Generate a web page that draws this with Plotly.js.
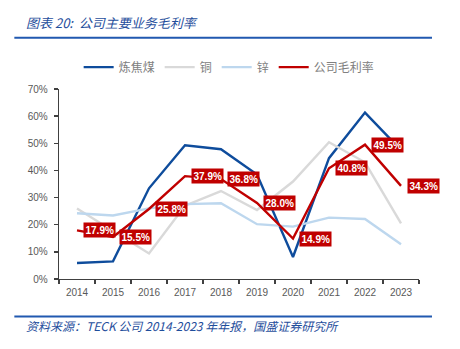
<!DOCTYPE html>
<html>
<head>
<meta charset="utf-8">
<script src="https://cdn.plot.ly/plotly-3.0.1.min.js"></script>
<style>
html,body{margin:0;padding:0;background:#fff;}
#chart{width:460px;height:349px;}
</style>
</head>
<body>
<div id="chart"></div>
<script>
const years = ['2014','2015','2016','2017','2018','2019','2020','2021','2022','2023'];
const cokingCoal = [5.9, 6.5, 33.4, 49.3, 47.8, 38.5, 8.1, 44.5, 61.3, 47.5];
const copper = [26.0, 17.8, 9.4, 27.0, 32.4, 25.4, 35.9, 50.4, 43.0, 20.5];
const zinc = [24.2, 23.4, 26.0, 27.6, 27.9, 20.2, 19.3, 22.6, 22.1, 12.8];
const company = [17.9, 15.5, 25.8, 37.9, 36.8, 28.0, 14.9, 40.8, 49.5, 34.3];
const seriesNames = ['炼焦煤', '铜', '锌', '公司毛利率'];
const yTicks = [0, 10, 20, 30, 40, 50, 60, 70];
const titleText = '图表 20:  公司主要业务毛利率';
const sourceText = '资料来源：TECK 公司 2014-2023 年年报，国盛证券研究所';

const W = 460, H = 349;
const M = {l: 58.7, r: 41, t: 89.3, b: 70.3};
const pw = W - M.l - M.r, ph = H - M.t - M.b;
const px = x => (x - M.l) / pw;
const py = y => (H - M.b - y) / ph;

const colors = ['#0E4C9C', '#D9D9D9', '#BDD7EE', '#C00000'];
const series = [cokingCoal, copper, zinc, company];

const traces = series.map((s, i) => ({
  type: 'scatter', mode: 'lines', x: years, y: s, name: seriesNames[i],
  line: {color: colors[i], width: 2.4}, hoverinfo: 'skip'
}));

const labelAnns = years.map((yr, i) => ({
  x: i, y: company[i], xref: 'x', yref: 'y',
  text: '<b>' + company[i].toFixed(1) + '%</b>', showarrow: false,
  xanchor: 'left', yanchor: 'middle', xshift: 6,
  bgcolor: '#C00000', borderpad: 1.5,
  font: {family: 'Liberation Sans, Arial, sans-serif', size: 10, color: '#ffffff'}
}));

const blue = '#1F4E9C';
const layout = {
  width: W, height: H,
  margin: {l: M.l, r: M.r, t: M.t, b: M.b},
  paper_bgcolor: '#ffffff', plot_bgcolor: '#ffffff',
  showlegend: true,
  legend: {
    orientation: 'h', x: px(229), xanchor: 'center', y: py(67.5), yanchor: 'middle',
    font: {family: 'Noto Sans CJK SC, sans-serif', size: 12, color: '#808080'},
    itemwidth: 30, tracegroupgap: 0, traceorder: 'normal'
  },
  xaxis: {
    type: 'category', range: [-0.5, 9.5], fixedrange: true,
    showline: true, linecolor: '#404040', linewidth: 1.3,
    ticks: 'outside', tickson: 'boundaries', ticklen: 4, tickcolor: '#404040', tickwidth: 1.3,
    showgrid: false, zeroline: false, ticklabelstandoff: 4,
    tickfont: {family: 'Liberation Sans, Arial, sans-serif', size: 10, color: '#595959'}
  },
  yaxis: {
    range: [0, 70], tickvals: yTicks, ticktext: yTicks.map(v => v + '%'),
    showline: true, linecolor: '#404040', linewidth: 1.3,
    ticks: 'outside', ticklen: 4, tickcolor: '#404040', tickwidth: 1.3,
    showgrid: false, zeroline: false, fixedrange: true, ticklabelstandoff: 4,
    tickfont: {family: 'Liberation Sans, Arial, sans-serif', size: 10, color: '#595959'}
  },
  shapes: [
    {type: 'line', xref: 'paper', yref: 'paper', x0: px(14), x1: px(432), y0: py(38.3), y1: py(38.3),
     line: {color: '#2159B0', width: 2}},
    {type: 'line', xref: 'paper', yref: 'paper', x0: px(14), x1: px(432), y0: py(316), y1: py(316),
     line: {color: '#2159B0', width: 2}}
  ],
  annotations: labelAnns.concat([
    {xref: 'paper', yref: 'paper', x: px(24), y: py(23.3), xanchor: 'left', yanchor: 'middle',
     showarrow: false, text: titleText,
     font: {family: 'Noto Sans CJK SC, sans-serif', size: 13, color: blue, style: 'italic'}},
    {xref: 'paper', yref: 'paper', x: px(24), y: py(325.5), xanchor: 'left', yanchor: 'middle',
     showarrow: false, text: sourceText,
     font: {family: 'Noto Sans CJK SC, sans-serif', size: 12, color: blue, style: 'italic'}}
  ])
};

Plotly.newPlot('chart', traces, layout, {displayModeBar: false, staticPlot: true});
</script>
</body>
</html>
